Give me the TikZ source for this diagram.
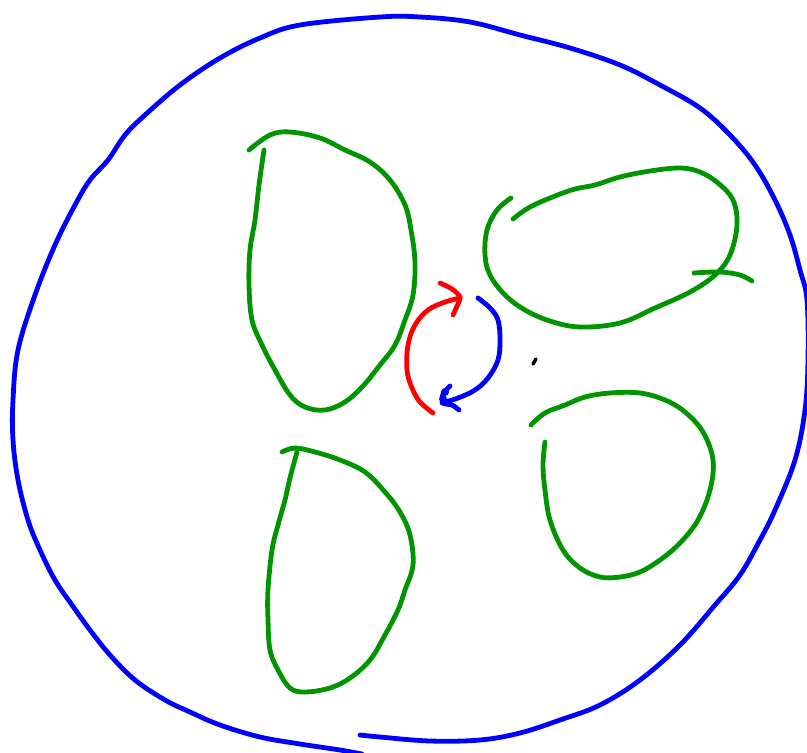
\documentclass[tikz,border=0pt]{standalone}
\begin{document}
\begin{tikzpicture}[x=1pt,y=-1pt,line cap=round,line join=round,
  pen/.style={line width=4.8pt},
  bpen/.style={pen,draw={rgb,255:red,0;green,0;blue,255}},
  gpen/.style={pen,draw={rgb,255:red,0;green,148;blue,0}},
  rpen/.style={pen,draw={rgb,255:red,255;green,0;blue,0}}]
\useasboundingbox (0,0) rectangle (807,753);
% outer blue loop
\draw[bpen] plot[smooth,tension=0.6] coordinates {(360,735) (380,737) (430,741) (480,740) (520,733) (560,720) (600,705) (640,680) (680,645) (715,605) (740,575) (760,540) (775,510) (795,460) (805,410) (808,360) (807,300) (800,270) (790,235) (775,200) (755,165) (730,135) (700,108) (660,85) (620,65) (570,48) (520,35) (470,22) (420,17) (380,17) (300,25) (260,38) (220,58) (180,85) (145,115) (125,135) (108,160) (90,180) (75,205) (55,245) (35,295) (18,350) (13,400) (13,440) (18,480) (28,520) (40,550) (55,580) (72,605) (90,630) (110,655) (135,680) (165,700) (190,712) (220,725) (260,737) (300,744) (340,750) (362,754)};
% green loop top-left
\draw[gpen] plot[smooth,tension=0.6] coordinates {(249,150) (270,135) (290,132) (320,138) (345,150) (370,162) (390,180) (405,205) (411,230) (415,262) (413,295) (405,320) (395,345) (380,365) (363,386) (345,402) (325,410) (305,407) (290,395) (275,370) (262,345) (252,320) (249,285) (250,250) (255,220) (259,185) (264,150)};
% green loop top-right
\draw[gpen] plot[smooth,tension=0.6] coordinates {(511,198) (497,210) (487,230) (485,255) (490,275) (505,295) (525,310) (550,321) (580,327) (620,323) (655,308) (690,292) (715,275) (730,255) (737,225) (733,200) (718,183) (700,172) (680,168) (650,171) (620,177) (595,185) (575,189) (555,196) (530,207) (513,219)};
\draw[gpen] plot[smooth,tension=0.6] coordinates {(694,273) (720,272) (740,275) (752,281)};
% green loop bottom-right
\draw[gpen] plot[smooth,tension=0.6] coordinates {(531,425) (545,413) (565,405) (585,397) (610,393) (640,393) (665,400) (685,412) (703,432) (713,460) (710,490) (698,520) (680,543) (660,560) (640,572) (620,577) (600,577) (580,568) (563,550) (550,520) (545,490) (543,465) (545,442)};
% green loop bottom-left
\draw[gpen] plot[smooth,tension=0.6] coordinates {(282,452) (295,448) (315,452) (340,460) (365,472) (385,492) (400,512) (410,535) (413,565) (405,590) (398,610) (385,635) (370,660) (350,678) (330,688) (305,692) (290,688) (278,670) (270,650) (268,620) (268,590) (272,550) (278,525) (285,500) (290,478) (297,452)};
% red arrow
\draw[rpen] plot[smooth,tension=0.6] coordinates {(433,413) (420,402) (412,388) (407,370) (408,345) (415,325) (428,310) (445,302) (460,298)};
\draw[rpen] plot[smooth,tension=0.5] coordinates {(440,283) (452,289) (460,297) (457,306) (453,315)};
% blue arrow
\draw[bpen] plot[smooth,tension=0.6] coordinates {(478,298) (490,308) (498,320) (500,340) (498,360) (488,378) (475,390) (458,398) (442,403)};
\draw[bpen] plot[smooth,tension=0.5] coordinates {(450,386) (443,394) (443,403) (452,405) (459,410)};
\fill[blue] (445,392) circle (4) (443,399) circle (4);
% black dot
\draw[line width=3.5pt] (533,364) -- (536,359);
\end{tikzpicture}
\end{document}
